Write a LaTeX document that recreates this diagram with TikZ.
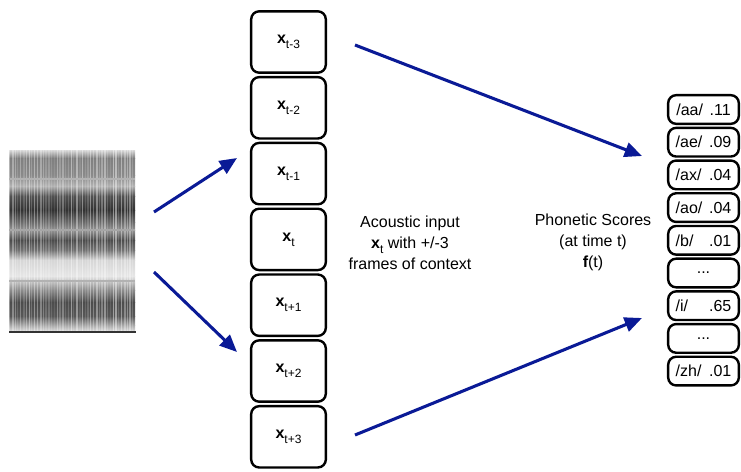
\documentclass[tikz,border=0pt]{standalone}
\usepackage{fontspec}
\setmainfont{Liberation Sans}
\usetikzlibrary{arrows.meta}
\definecolor{arrowblue}{RGB}{10,26,150}
\newcommand{\xsub}[1]{\textbf{x}\raisebox{-0.6ex}{\small #1}}
\newcommand{\phone}[2]{\makebox[25pt][l]{#1}#2}

\begin{document}
\begin{tikzpicture}[
        x=0.75pt, y=-0.75pt,
        frame/.style={rectangle, draw, line width=1.8pt, rounded corners=6pt, minimum width=56pt, minimum height=46pt, inner sep=0pt, font=\fontsize{12}{14}\selectfont},
        score/.style={rectangle, draw, line width=1.8pt, rounded corners=6pt, minimum width=53pt, minimum height=21.5pt, inner sep=0pt, font=\fontsize{12}{14}\selectfont},
        caption/.style={align=center, font=\fontsize{12}{15.75}\selectfont},
        arrow/.style={-{Triangle[length=13pt,width=11pt]}, line width=2.3pt, arrowblue}
    ]
        \useasboundingbox (0,0) rectangle (741,471);

        % Spectrogram
        \begin{scope}
            \clip (9,150) rectangle (135,331);
            \foreach \ya/\yb/\ca/\cb in {150/158/15/50, 158/175/50/46, 175/186/46/30, 186/196/30/68, 196/210/68/80, 210/222/80/58, 222/230/58/42, 230/240/42/70, 240/250/70/55, 250/260/55/16, 260/276/16/10, 276/290/10/45, 290/302/45/70, 302/316/70/66, 316/325/66/34, 325/331/34/14}
                \shade[top color=black!\ca, bottom color=black!\cb] (9,\ya) rectangle (135,\yb);
            \pgfmathsetseed{17}
            \foreach \xx in {9,11.8,...,134} {
                \pgfmathsetmacro\op{0.1+0.35*rnd}
                \pgfmathsetmacro\ww{0.8+1.2*rnd}
                \fill[white, opacity=\op] (\xx,150) rectangle ++(\ww,181);
            }
        \end{scope}
        \draw[black!30, line width=0.8pt] (9,179) -- (135,179);
        \draw[black!35, line width=0.8pt] (9,230) -- (135,230);
        \draw[black!30, line width=0.8pt] (9,281) -- (135,281);
        \draw[black!80, line width=0.9pt] (9,332) -- (136,332);

        % Acoustic frames
        \node[frame] (xtm3) at (288.5,42) {\xsub{t-3}};
        \node[frame] (xtm2) at (288.5,107.8) {\xsub{t-2}};
        \node[frame] (xtm1) at (288.5,173.6) {\xsub{t-1}};
        \node[frame] (xt) at (288.5,239.4) {\xsub{t}};
        \node[frame] (xtp1) at (288.5,305.2) {\xsub{t+1}};
        \node[frame] (xtp2) at (288.5,371) {\xsub{t+2}};
        \node[frame] (xtp3) at (288.5,436.8) {\xsub{t+3}};

        % Phonetic scores
        \node[score] (aa) at (703.5,109.5) {\phone{/aa/}{.11}};
        \node[score] (ae) at (703.5,142.2) {\phone{/ae/}{.09}};
        \node[score] (ax) at (703.5,174.9) {\phone{/ax/}{.04}};
        \node[score] (ao) at (703.5,207.6) {\phone{/ao/}{.04}};
        \node[score] (b) at (703.5,240.3) {\phone{/b/}{.01}};
        \node[score] (gap1) at (703.5,273) {...};
        \node[score] (i) at (703.5,305.7) {\phone{/i/}{.65}};
        \node[score] (gap2) at (703.5,338.4) {...};
        \node[score] (zh) at (703.5,371.1) {\phone{/zh/}{.01}};

        % Captions
        \node[caption] (acoustic) at (410,243) {Acoustic input\\\xsub{t} with +/-3\\frames of context};
        \node[caption] (phonetic) at (593,242) {Phonetic Scores\\(at time t)\\\textbf{f}(t)};

        % Arrows
        \coordinate (specA) at (154,212);
        \coordinate (specB) at (154,272);
        \coordinate (inA) at (237,158);
        \coordinate (inB) at (237,352);
        \coordinate (outA) at (355,45);
        \coordinate (outB) at (355,435);
        \coordinate (scA) at (642,156);
        \coordinate (scB) at (642,318);
        \draw[arrow] (specA) -- (inA);
        \draw[arrow] (specB) -- (inB);
        \draw[arrow] (outA) -- (scA);
        \draw[arrow] (outB) -- (scB);

    \end{tikzpicture}
\end{document}
